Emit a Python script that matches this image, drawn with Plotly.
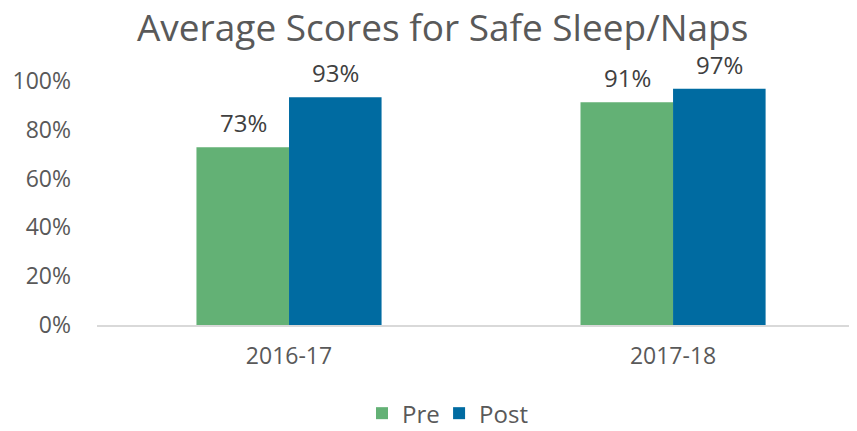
import plotly.graph_objects as go

categories = ["2016-17", "2017-18"]
pre_values = [0.728, 0.913]
post_values = [0.933, 0.968]
series_names = ["Pre", "Post"]
y_tick_vals = [0, 0.2, 0.4, 0.6, 0.8, 1.0]
y_tick_text = ["0%", "20%", "40%", "60%", "80%", "100%"]

FONT = "Open Sans"
GRAY = "#595959"
COLORS = ["#63B175", "#006BA1"]
LEGENDS = ["legend", "legend2"]

fig = go.Figure()
for name, vals, col, lg in zip(series_names, [pre_values, post_values], COLORS, LEGENDS):
    fig.add_trace(go.Bar(
        x=categories, y=vals, name=name, legend=lg,
        marker=dict(color=col, line=dict(width=0)),
    ))

# data labels above bars
offsets = [-46, 46]
for vals, dx in zip([pre_values, post_values], offsets):
    for c, v in zip(categories, vals):
        fig.add_annotation(x=c, y=v, xref="x", yref="y", text=f"{v:.0%}",
                           showarrow=False, xshift=dx, yanchor="bottom", yshift=6,
                           font=dict(family=FONT, size=24, color="#404040"))

legend_style = dict(orientation="h", xanchor="left", y=-0.363, yanchor="middle",
                    itemwidth=30, font=dict(family=FONT, size=24, color=GRAY))

fig.update_layout(
    width=849, height=423,
    margin=dict(l=89, r=0, t=73, b=106, autoexpand=False),
    paper_bgcolor="white", plot_bgcolor="white",
    font=dict(family=FONT, color=GRAY),
    title=dict(text="Average Scores for Safe Sleep/Naps", x=0.512, xanchor="center",
               y=0.952, yanchor="middle", yref="container",
               font=dict(family=FONT, size=37, color=GRAY)),
    barmode="group", bargap=0.518, bargroupgap=0,
    showlegend=True,
    legend=dict(x=0.3487, **legend_style),
    legend2=dict(x=0.4501, **legend_style),
    xaxis=dict(range=[-0.5, 1.479], showline=True, linecolor="#D9D9D9", linewidth=1.5,
               showgrid=False, ticks="", tickfont=dict(family=FONT, size=23, color=GRAY),
               ticklabelstandoff=10),
    yaxis=dict(range=[0, 1.0], tickvals=y_tick_vals, ticktext=y_tick_text,
               showgrid=False, zeroline=False, showline=False, ticks="",
               tickfont=dict(family=FONT, size=23, color=GRAY), ticklabelstandoff=25),
)

fig.write_html("out.html")
